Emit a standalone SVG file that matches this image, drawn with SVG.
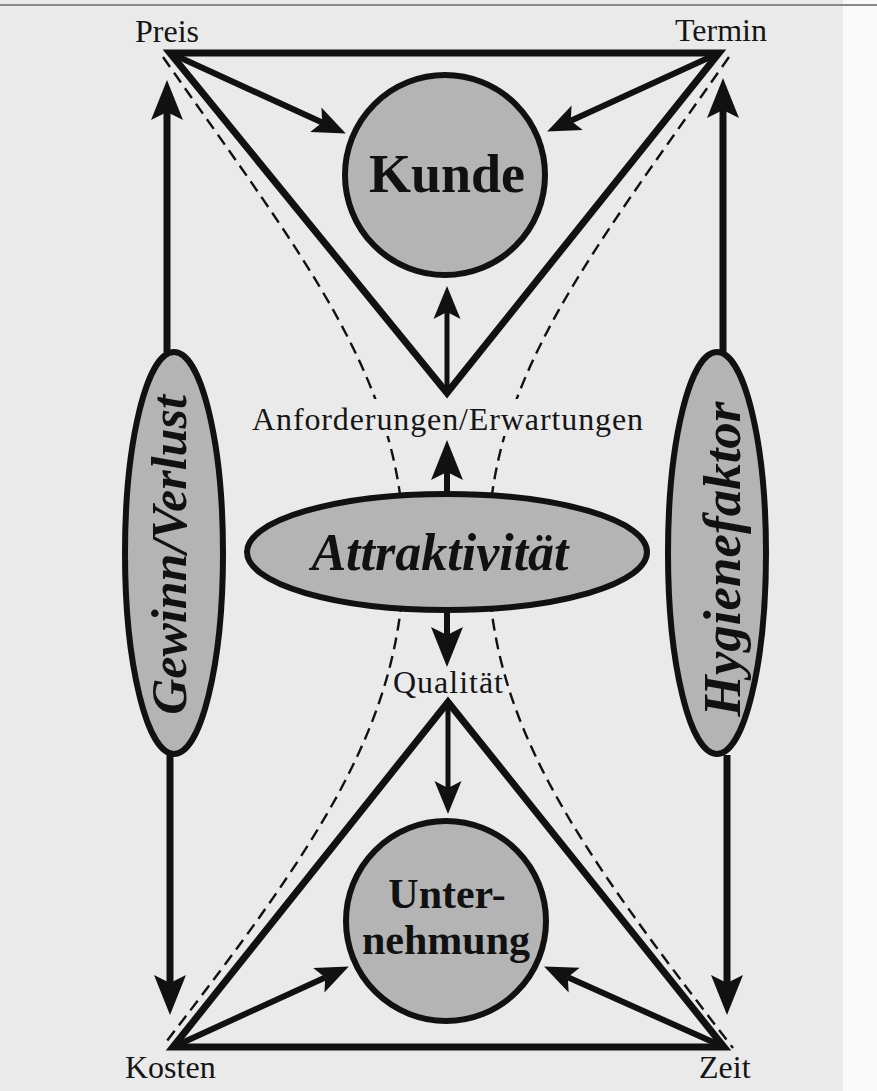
<svg xmlns="http://www.w3.org/2000/svg" width="877" height="1091" viewBox="0 0 877 1091">
<defs>
<style>
.lbl{font-family:"Liberation Serif","Times New Roman",serif;font-size:32px;fill:#151515}
.node{fill:#b4b4b4;stroke:#111;stroke-width:6}
.bold{font-family:"Liberation Serif","Times New Roman",serif;font-weight:bold;fill:#111;text-anchor:middle}
.bi{font-family:"Liberation Serif","Times New Roman",serif;font-weight:bold;font-style:italic;fill:#111;text-anchor:middle}
.tri{fill:none;stroke:#111;stroke-width:7;stroke-linejoin:miter}
.arr{stroke:#111;fill:none}
.dash{fill:none;stroke:#111;stroke-width:2.4;stroke-dasharray:12 7}
.head{fill:#111}
</style>
<marker id="ahM" markerUnits="userSpaceOnUse" markerWidth="44" markerHeight="40" refX="8" refY="0" orient="auto" overflow="visible"><path class="head" d="M40,0 L0,-16 L8,0 L0,16 Z"/></marker>
<marker id="ahS" markerUnits="userSpaceOnUse" markerWidth="36" markerHeight="30" refX="7" refY="0" orient="auto" overflow="visible"><path class="head" d="M33,0 L0,-13.5 L7,0 L0,13.5 Z"/></marker>
<mask id="txtgap"><rect x="0" y="0" width="877" height="1091" fill="#fff"/><rect x="360" y="399" width="170" height="37" fill="#000"/></mask>
</defs>
<rect width="877" height="1091" fill="#eaeaea"/>
<rect x="843" y="0" width="34" height="1091" fill="#f9f9f9"/>
<line x1="0" y1="5" x2="877" y2="5" stroke="#8a8a8a" stroke-width="2"/>

<g id="connectors">
  <g id="dashed" mask="url(#txtgap)">
    <path class="dash" d="M163,57 C303,257 404,380 404,553 C404,723 317,846 163,1046"/>
    <path class="dash" d="M729,57 C589,257 488,380 488,553 C488,723 577,846 733,1048"/>
  </g>
  <polygon id="tri-top" class="tri" points="170,53 447,393 719,53"/>
  <polygon id="tri-bottom" class="tri" points="173,1047 448,702 724,1047"/>
  <line class="arr" stroke-width="7" x1="167" y1="352" x2="167" y2="112" marker-end="url(#ahM)"/>
  <line class="arr" stroke-width="7" x1="170" y1="755" x2="170" y2="983" marker-end="url(#ahM)"/>
  <line class="arr" stroke-width="7" x1="723" y1="352" x2="723" y2="110" marker-end="url(#ahM)"/>
  <line class="arr" stroke-width="7" x1="727" y1="755" x2="727" y2="983" marker-end="url(#ahM)"/>
  <line class="arr" stroke-width="6" x1="170" y1="53" x2="322.2" y2="122.6" marker-end="url(#ahS)"/>
  <line class="arr" stroke-width="6" x1="719" y1="53" x2="570.8" y2="120.7" marker-end="url(#ahS)"/>
  <line class="arr" stroke-width="6" x1="173" y1="1047" x2="325.2" y2="977.4" marker-end="url(#ahS)"/>
  <line class="arr" stroke-width="6" x1="724" y1="1047" x2="567.8" y2="977.2" marker-end="url(#ahS)"/>
  <line class="arr" stroke-width="5" x1="447" y1="395" x2="447" y2="312" marker-end="url(#ahS)"/>
  <line class="arr" stroke-width="6" x1="447" y1="496" x2="447" y2="472" marker-end="url(#ahM)"/>
  <line class="arr" stroke-width="6" x1="447" y1="608" x2="447" y2="635" marker-end="url(#ahM)"/>
  <line class="arr" stroke-width="5" x1="448" y1="702" x2="448" y2="788" marker-end="url(#ahS)"/>
</g>

<g id="node-kunde">
  <circle class="node" cx="445" cy="175" r="100"/>
  <text class="bold" x="447" y="192" font-size="54">Kunde</text>
</g>
<g id="node-unternehmung">
  <circle class="node" cx="446" cy="921" r="100"/>
  <text class="bold" x="447" y="908" font-size="42">Unter-</text>
  <text class="bold" x="446" y="954" font-size="42">nehmung</text>
</g>
<g id="node-attraktivitaet">
  <ellipse class="node" cx="447" cy="552" rx="200" ry="58"/>
  <text class="bi" x="440" y="570" font-size="52">Attraktivität</text>
</g>
<g id="node-gewinn">
  <ellipse class="node" cx="174" cy="553" rx="49" ry="201"/>
  <text class="bi" transform="translate(186,555) rotate(-90)" font-size="50">Gewinn/Verlust</text>
</g>
<g id="node-hygiene">
  <ellipse class="node" cx="717" cy="553" rx="49" ry="201"/>
  <text class="bi" transform="translate(740,559) rotate(-90)" font-size="53">Hygienefaktor</text>
</g>

<g id="labels">
  <text id="lbl-preis" class="lbl" x="135" y="42">Preis</text>
  <text id="lbl-termin" class="lbl" x="675" y="41">Termin</text>
  <text id="lbl-kosten" class="lbl" x="125" y="1078">Kosten</text>
  <text id="lbl-zeit" class="lbl" x="699" y="1078">Zeit</text>
  <text id="lbl-anf" class="lbl" x="252" y="430" font-size="33" textLength="391" lengthAdjust="spacing">Anforderungen/Erwartungen</text>
  <text id="lbl-qual" class="lbl" x="393" y="693" font-size="33" textLength="110" lengthAdjust="spacing">Qualität</text>
</g>
</svg>
